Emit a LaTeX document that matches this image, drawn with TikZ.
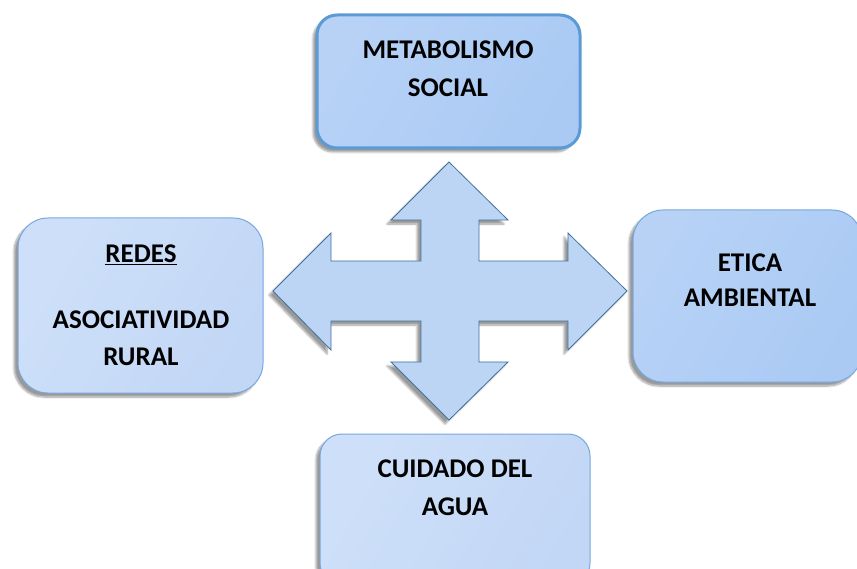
\documentclass[tikz,border=0pt]{standalone}
\usepackage{fontspec}
\setmainfont{Carlito}
\usetikzlibrary{shadows.blur}
\definecolor{boxdark}{RGB}{170,202,244}
\definecolor{boxlight}{RGB}{184,210,246}
\definecolor{paledark}{RGB}{194,215,246}
\definecolor{palelight}{RGB}{206,224,249}
\definecolor{edgeblue}{RGB}{91,155,213}
\definecolor{thinedge}{RGB}{120,166,222}
\definecolor{crossedge}{RGB}{65,113,156}
\definecolor{crossfill}{RGB}{188,213,245}
\tikzset{
  boxbase/.style={draw, rounded corners=22pt, inner sep=0pt,
    blur shadow={shadow xshift=-4pt, shadow yshift=-4pt, shadow blur steps=8, shadow opacity=40}},
  darkbox/.style={boxbase, left color=boxlight, right color=boxdark, shading angle=60},
  palebox/.style={boxbase, left color=palelight, right color=paledark, shading angle=60},
  lbl/.style={font=\bfseries\fontsize{27}{38}\selectfont, align=center, inner sep=0pt, text=black}
}
\begin{document}
\begin{tikzpicture}[x=1pt,y=-1pt]
\useasboundingbox (0,0) rectangle (857,569);
% boxes
\node[darkbox, draw=edgeblue, line width=3pt, minimum width=263pt, minimum height=133pt, rounded corners=20pt] (top) at (448.5,81.5) {};
\node[palebox, draw=thinedge, line width=1pt, minimum width=245pt, minimum height=175pt, rounded corners=30pt] (left) at (140.5,305.5) {};
\node[darkbox, draw=thinedge, line width=1pt, minimum width=229pt, minimum height=172pt, rounded corners=30pt] (right) at (747.5,296) {};
\node[palebox, draw=thinedge, line width=1pt, minimum width=270pt, minimum height=151pt, rounded corners=22pt] (bottom) at (455,509.5) {};
% cross arrow
\draw[crossedge, line width=0.8pt, fill=crossfill,
  blur shadow={shadow xshift=-4pt, shadow yshift=-4pt, shadow blur steps=8, shadow opacity=40}]
  (449,162) -- (508,220) -- (479,220) -- (479,261) -- (568,261) -- (568,233) -- (627,291)
  -- (568,350) -- (568,321) -- (479,321) -- (479,362) -- (508,362) -- (449,420)
  -- (391,362) -- (421,362) -- (421,321) -- (331,321) -- (331,350) -- (273,291)
  -- (331,233) -- (331,261) -- (421,261) -- (421,220) -- (391,220) -- cycle;
% texts
\node[lbl] (t1) at (448,50) {METABOLISMO};
\node[lbl] (t2) at (448,88) {SOCIAL};
\node[lbl] (l1) at (141,255) {\underline{REDES}};
\node[lbl] (l2) at (141,320) {ASOCIATIVIDAD};
\node[lbl] (l3) at (141,357) {RURAL};
\node[lbl] (r1) at (750,263) {ETICA};
\node[lbl] (r2) at (750,298) {AMBIENTAL};
\node[lbl] (b1) at (455,469) {CUIDADO DEL};
\node[lbl] (b2) at (455,507) {AGUA};
\end{tikzpicture}
\end{document}
